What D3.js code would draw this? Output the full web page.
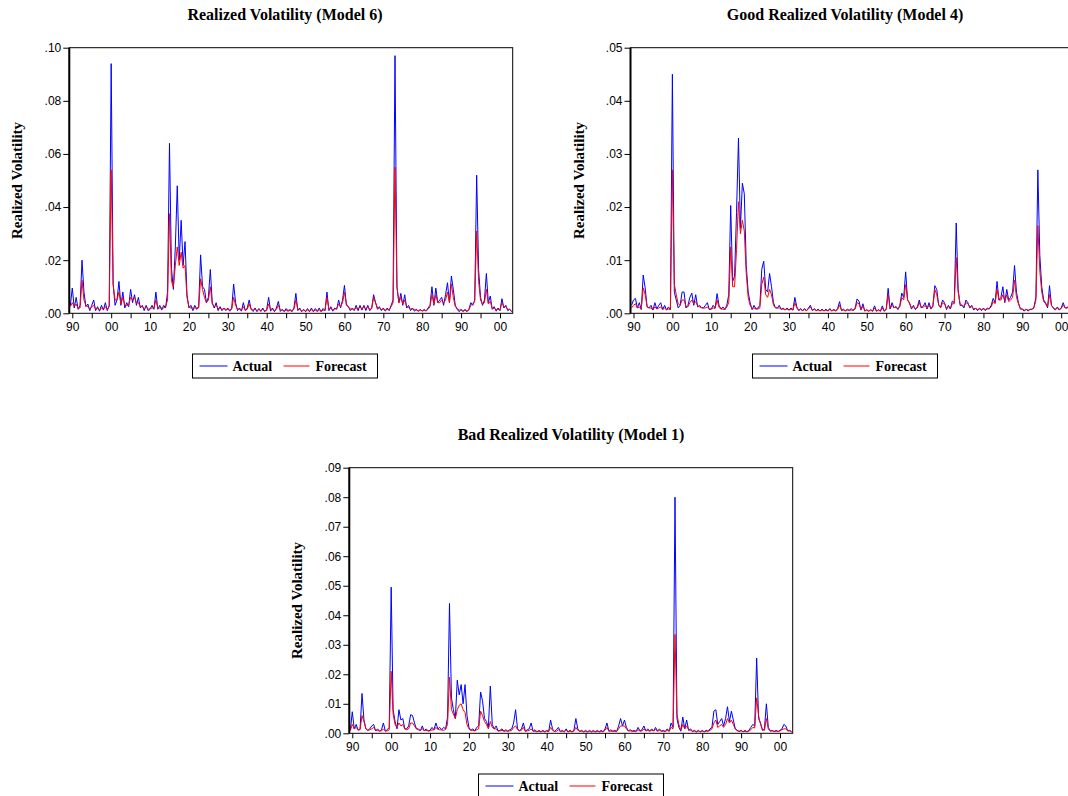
<!DOCTYPE html>
<html>
<head>
<meta charset="utf-8">
<script src="https://cdn.jsdelivr.net/npm/d3@7"></script>
<style>
body { margin: 0; background: #fff; }
svg { display: block; }
</style>
</head>
<body>
<svg id="chart"></svg>
<script>
// half-year steps, first value at 1889.5, last at 2003.0
const startYear = 1889.5;
const stepYear = 0.5;
const seriesNames = ["Actual", "Forecast"];

// values in thousandths (.001), one row per decade
// Realized Volatility (Model 6)
const actual6 = [3,
  9.5,2,6,1.5,3,20,8,2.5,3.5,1,3,5,1,2.5,0.8,3,1.2,4,1,3,
  94,11,3,5,12,3,8,2,4,2.5,9,4,7,3,6,2,3,1,3,1,
  1.5,3,1.5,8,1.5,3,1.2,3,2,8,64,17,9,25,48,20,35,18,27,7,
  2,3,1,3,1.5,2.5,22,10,9,4,6,16.5,4,2,4,1,2.5,1,2,1,
  2,0.8,2,11,4,1,2,0.8,4,1,2,5,1.5,0.7,2,0.6,1.8,0.7,2,0.6,
  1.5,6,0.8,2,0.6,2,4.5,0.7,1.5,0.6,1.8,0.7,1.5,0.6,2,7.5,1,2,0.6,1.5,
  0.6,1.8,0.6,2,0.6,1.8,0.7,2,0.6,1.8,1,8,1,2.5,0.8,2,1.5,5,2,5,
  10.5,3,2.5,1,2,1,3,1,3,1.2,3,1,3,1,2,7,4,1.5,2.5,1,
  2,0.8,2,1,3,5,97,10,4,7.5,3,7,2,3,1,2,0.8,1.5,0.7,1.5,
  0.8,1.5,0.8,2,3,10,3,9.5,4,5,6,3,7,11.5,4,14,9,3,1.5,0.6,
  1.5,0.6,1.5,0.6,1.5,4,3,5,52,16.5,6,3,5,15,4,6.5,1.5,2.5,0.8,2,
  1,5.5,2,3,1,1.5,0.6];
const forecast6 = [2.5,
  4,2.5,3.5,1.8,2,12.5,5,3,2.5,1.5,2.5,3,1.5,2,1.2,2,1.5,2.5,1.5,2.5,
  54,11,5,5,8,3.5,6,3,3,3,6,5,6,4,4,2.5,2.5,1.8,2.5,1.5,
  1.8,2,2,5,2,2,2,2,2.5,5,37.5,12,10,18,25,18,23,17,18,6,
  2.5,2,2,2,2,2,13,9,6,4,5,10,3.5,2.5,3,1.8,2,1.5,1.8,1.5,
  1.5,1.2,1.5,6,3,1.5,1.5,1.2,2.5,1.2,1.5,3.5,1.5,1.2,1.5,1,1.5,1,1.5,1,
  1,3.5,1.5,1.5,1,1.5,3,1.2,1.2,1,1.2,1.2,1,1,1.5,5,1.5,1.5,1,1.2,
  0.8,1.2,0.8,1.3,0.8,1.2,0.8,1.3,0.8,1.2,1.2,6,1.5,1.8,1.2,1.6,1.8,3.5,2.5,4,
  8,3.5,2.5,1.6,1.6,1.4,2,1.6,2.5,1.6,2.5,1.6,2.5,1.4,1.8,6,4,2,2,1.4,
  1.6,1.2,1.5,1.3,2.5,4,55,10,4,6,3.5,5,2.5,2.2,1.6,1.6,1.4,1.2,1.1,1.1,
  1,1.1,1,1.5,2.5,7,3.5,7,4,4,5,4,5,8,4,11,6,2.5,1.8,1.2,
  1.3,1,1.1,0.9,1.3,3,3.5,4.5,31,12,5,3.5,4,9,3.5,4.5,1.8,2,1.3,1.6,
  1.2,4,2.5,2.5,1.5,1.5,0.8];

// Good Realized Volatility (Model 4)
const actual4 = [1.5,
  2.5,2.8,1,2,0.7,7.2,4.8,1.2,1,1.5,0.6,2,0.8,1.5,2,0.7,1.5,0.6,1.2,0.7,
  45,4,2.5,1,1.5,4,4,1,1.5,3,3.8,1.5,3.5,1.2,1.5,1,1,1.5,2,0.7,
  0.8,1.5,1,3.7,1.5,0.8,1.2,0.7,1.5,3.5,20.3,6,7,19,33,16,24.5,22.5,9,4,
  2,0.7,1.5,0.8,1,1.5,8.3,9.8,4.5,4,7.5,5,2,1,1,1.5,0.7,1,0.6,1,
  0.6,1,0.6,3,1.2,0.5,0.9,0.5,0.9,0.5,1,1.5,0.5,0.9,0.5,0.8,0.4,0.8,0.4,0.8,
  0.4,0.9,0.4,0.8,0.4,0.9,2.2,0.5,0.8,0.4,0.8,0.5,0.9,0.5,1,2.7,2.3,0.6,1.8,0.4,
  0.7,0.4,0.7,0.4,1.4,0.4,0.7,0.4,1.4,0.4,0.8,4.7,0.8,2,1,1.3,0.7,1.5,3.8,3,
  7.8,2.5,2,0.8,1.5,0.7,1.2,2.5,1,1.3,2,0.8,2,0.8,1.5,5.2,4.5,1.5,1.2,2.5,
  2,0.7,1.5,0.8,2.3,2,17,4.5,1.5,1.5,1,2.5,2,1,1.5,0.6,1,0.5,1,0.5,
  1,0.5,1,0.8,1.5,2.8,2,6,2.5,3,5,2,4.5,2.5,3,4,9,4,2,0.8,
  0.8,0.4,0.8,0.4,0.8,0.7,1.2,3,27,11,5,2.5,2,1,5.2,1.5,1,0.6,1.2,0.6,
  1,2,1,1,1.5,0.8,1];
const forecast4 = [1,
  1.5,1.8,1,1.2,0.8,4.8,3.5,1.3,1,1,0.7,1.2,0.8,1,1.2,0.7,1,0.7,0.8,0.7,
  27,5.5,3.5,1.8,1.5,2.5,2.5,1.3,1.2,2,2.5,1.8,2.2,1.4,1.2,1.1,1,1,1.2,0.8,
  0.8,1,0.9,2.5,1.1,0.8,0.8,0.7,1.2,2,12.5,5,5,12,21,15,17.5,15.5,7.5,3,
  1.5,0.9,1,0.8,0.8,1,5.5,6.8,3.5,3,4.5,3.5,1.5,1.1,1,1,0.8,0.8,0.7,0.8,
  0.6,0.8,0.6,2,1,0.6,0.7,0.5,0.7,0.5,0.8,1.2,0.6,0.7,0.5,0.6,0.5,0.6,0.5,0.6,
  0.5,0.7,0.5,0.6,0.5,0.7,1.5,0.6,0.6,0.5,0.6,0.6,0.6,0.6,0.8,2,1.8,0.7,1.3,0.5,
  0.6,0.4,0.6,0.4,1,0.4,0.6,0.4,1,0.4,0.7,3.5,0.9,1.5,1.1,1.1,0.9,1.2,3,2.5,
  5.4,2.5,1.8,1,1.2,0.9,1,2,1.2,1.1,1.5,0.9,1.5,0.9,1.2,4.5,3.5,1.6,1,2,
  1.8,0.9,1.2,0.9,1.8,1.8,10.5,4,1.8,1.5,1.3,2,1.8,1.2,1.2,0.9,0.9,0.7,0.8,0.7,
  0.8,0.7,0.8,0.9,1.2,2.2,1.8,4.5,2.5,2.5,3.5,2.3,3.5,2.2,2.5,3,6.2,3,1.8,0.9,
  0.8,0.6,0.7,0.6,0.7,0.8,1,2.5,16.5,8,4,2.2,1.8,1.2,3.5,1.5,1,0.8,1,0.8,
  0.9,1.5,1.1,1,1.2,1,0.9];

// Bad Realized Volatility (Model 1)
const actual1 = [1,
  7.3,1.5,3,1,1.5,13.5,4.5,1.5,1,1.5,2.5,3,0.8,1.5,0.7,1.2,3.5,0.7,1.2,2,
  49.5,8,4,1.5,8,4.5,5,1.5,1.5,2.5,6.3,6,3.5,1.5,1.5,0.8,2.5,0.8,1.5,0.8,
  1,2,1.2,3.5,1.5,2,1.2,2,1.5,5.5,44,12,8,5,18,13,16.5,10,16.5,6,
  2,1,1.5,0.8,2,2.5,14,11,5,4,2,16,3,1.5,2.5,0.8,1,1.5,0.7,1.2,
  0.7,1.2,1.5,3.5,8,1.5,0.8,1.5,3.5,0.7,1.2,1.5,3.5,0.7,1.2,0.5,1,0.5,1,0.5,
  1,0.6,4.5,1.5,0.6,1.2,2,0.6,1,0.5,1.5,0.5,1,0.5,1,5,1.5,0.6,1,0.5,
  1,0.5,1,0.5,1,0.5,1,0.5,1,0.5,1.5,3.5,0.7,1.2,0.7,1,0.6,2.5,5,2.5,
  4.5,2,0.8,1.2,0.7,1,0.6,2,0.8,1.2,2.5,0.8,1.5,0.7,1.5,0.8,2,0.7,1.5,0.7,
  1,0.6,1.5,0.7,3.5,2,80,5,2,0.7,5.5,1.5,4.5,1,1.5,0.6,1,0.5,1,0.5,
  1,0.5,1,0.7,1.5,2,7.5,8,3,4,5,2.5,5,9,4,7.5,4.5,1.5,1,0.6,
  1,0.5,1,0.5,1,2,3,2.5,25.5,5,3.5,1,1.5,10,2,0.7,1,0.6,1,0.6,
  1,1.5,3,2.5,0.8,1,0.5];
const forecast1 = [1,
  3,1.5,2,1.2,1.2,6,4,1.5,1,1.2,1.5,2,1,1,0.8,0.8,1.5,0.8,0.8,1.2,
  21,6.5,3,2,3.5,2.5,3,1.5,1.2,1.5,3.5,3.5,2.5,1.5,1.2,1,1.5,1,1,0.8,
  0.8,1.2,1.1,2,1.3,1.2,1.1,1,1.3,3,19,8,6.5,5,8,9.5,10,8,7,3,
  1.5,1,1,0.8,1.2,1.5,7.5,6,4,3,1.5,4,2,1.5,1.5,0.8,0.8,1,0.7,0.8,
  0.7,0.8,1,2,2.5,1.2,0.8,1,2,0.7,0.8,1,1.5,0.7,0.7,0.5,0.7,0.5,0.7,0.5,
  0.7,0.6,2,1,0.6,0.7,1.2,0.6,0.7,0.5,1,0.5,0.7,0.5,0.7,2,1,0.7,0.7,0.5,
  0.6,0.5,0.6,0.5,0.6,0.5,0.6,0.5,0.6,0.5,1,2,0.7,0.7,0.7,0.6,0.7,1.5,2.5,2.5,
  2.5,1.5,0.8,0.8,0.7,0.6,0.7,1.2,0.7,0.8,1.5,0.8,1,0.7,1,0.8,1.3,0.7,1,0.7,
  0.7,0.6,1,0.7,2,1.5,33.5,6.5,3,1,3,1.5,2.5,1.2,1,0.7,0.7,0.5,0.7,0.5,
  0.7,0.5,0.7,0.7,1,1.5,3.5,4.5,2,2.5,3,2,3,5,3.5,4.5,3,1.5,0.8,0.7,
  0.8,0.5,0.7,0.5,0.7,1.2,2,1.8,12,6,3,1.2,1,5,1.5,0.8,0.8,0.6,0.7,0.6,
  0.8,1.2,1.5,1.5,0.8,0.8,0.5];

const xDomain = [1889.23, 2003.27];
const xTicks = d3.range(1890, 2001, 5);

const panels = [
  { title: "Realized Volatility (Model 6)", actual: actual6, forecast: forecast6,
    yMax: 0.10, yStep: 0.02, left: 69.3, top: 47.7, midX: 285 },
  { title: "Good Realized Volatility (Model 4)", actual: actual4, forecast: forecast4,
    yMax: 0.05, yStep: 0.01, left: 630.5, top: 47.7, midX: 845 },
  { title: "Bad Realized Volatility (Model 1)", actual: actual1, forecast: forecast1,
    yMax: 0.09, yStep: 0.01, left: 349.3, top: 467.7, midX: 571 }
];

const width = 1068, height = 796;
const plotW = 443.4, plotH = 265.6;
const colors = ["#0000ff", "#ff0000"];
const serif = "'Liberation Serif','Times New Roman',serif";
const sans = "'Liberation Sans',Arial,sans-serif";

const svg = d3.select("#chart").attr("width", width).attr("height", height);
svg.append("rect").attr("width", width).attr("height", height).attr("fill", "#fff");

function drawPanel(p) {
  const g = svg.append("g");
  const x = d3.scaleLinear().domain(xDomain).range([p.left, p.left + plotW]);
  const y = d3.scaleLinear().domain([0, p.yMax]).range([p.top + plotH, p.top]);
  const line = d3.line()
    .x((d, i) => x(startYear + i * stepYear))
    .y(d => y(d / 1000));

  // actual first, forecast drawn over it
  [p.actual, p.forecast].forEach((s, k) => {
    g.append("path")
      .attr("d", line(s))
      .attr("fill", "none")
      .attr("stroke", colors[k])
      .attr("stroke-width", 1)
      .attr("stroke-linejoin", "round");
  });

  g.append("rect")
    .attr("x", p.left).attr("y", p.top)
    .attr("width", plotW).attr("height", plotH)
    .attr("fill", "none").attr("stroke", "#000").attr("stroke-width", 1);
  g.append("line")
    .attr("x1", p.left).attr("x2", p.left)
    .attr("y1", p.top).attr("y2", p.top + plotH)
    .attr("stroke", "#000").attr("stroke-width", 2);

  const yAxis = d3.axisLeft(y)
    .tickValues(d3.range(0, p.yMax + 1e-9, p.yStep))
    .tickSize(6)
    .tickPadding(2)
    .tickFormat(d => d3.format(".2f")(d).replace(/^0/, ""));
  g.append("g")
    .attr("transform", "translate(" + p.left + ",0)")
    .call(yAxis)
    .call(a => a.select(".domain").remove())
    .call(a => a.selectAll("text").attr("font-family", sans).attr("font-size", 12).attr("fill", "#000"));

  const xAxis = d3.axisBottom(x)
    .tickValues(xTicks)
    .tickSize(5)
    .tickPadding(4)
    .tickFormat(d => d % 10 === 0 ? d3.format("02d")(d % 100) : "");
  g.append("g")
    .attr("transform", "translate(0," + (p.top + plotH) + ")")
    .call(xAxis)
    .call(a => a.select(".domain").remove())
    .call(a => a.selectAll("text").attr("font-family", sans).attr("font-size", 12).attr("fill", "#000"));

  g.append("text")
    .attr("x", p.midX).attr("y", p.top - 27.5)
    .attr("text-anchor", "middle")
    .attr("font-family", serif).attr("font-weight", "bold").attr("font-size", 16)
    .text(p.title);

  g.append("text")
    .attr("transform", "translate(" + (p.left - 47) + "," + (p.top + plotH / 2) + ") rotate(-90)")
    .attr("text-anchor", "middle")
    .attr("font-family", serif).attr("font-weight", "bold").attr("font-size", 15)
    .text("Realized Volatility");

  // legend
  const lg = g.append("g").attr("transform", "translate(" + (p.midX - 92.5) + "," + (p.top + plotH + 40.7) + ")");
  lg.append("rect").attr("width", 185).attr("height", 24)
    .attr("fill", "#fff").attr("stroke", "#000").attr("stroke-width", 1);
  const items = [{ x1: 7, x2: 35, tx: 40 }, { x1: 91, x2: 117, tx: 123 }];
  items.forEach((it, k) => {
    lg.append("line").attr("x1", it.x1).attr("x2", it.x2).attr("y1", 12).attr("y2", 12)
      .attr("stroke", colors[k]).attr("stroke-width", 1);
    lg.append("text").attr("x", it.tx).attr("y", 17)
      .attr("font-family", serif).attr("font-weight", "bold").attr("font-size", 14)
      .text(seriesNames[k]);
  });
}

panels.forEach(drawPanel);
</script>
</body>
</html>
